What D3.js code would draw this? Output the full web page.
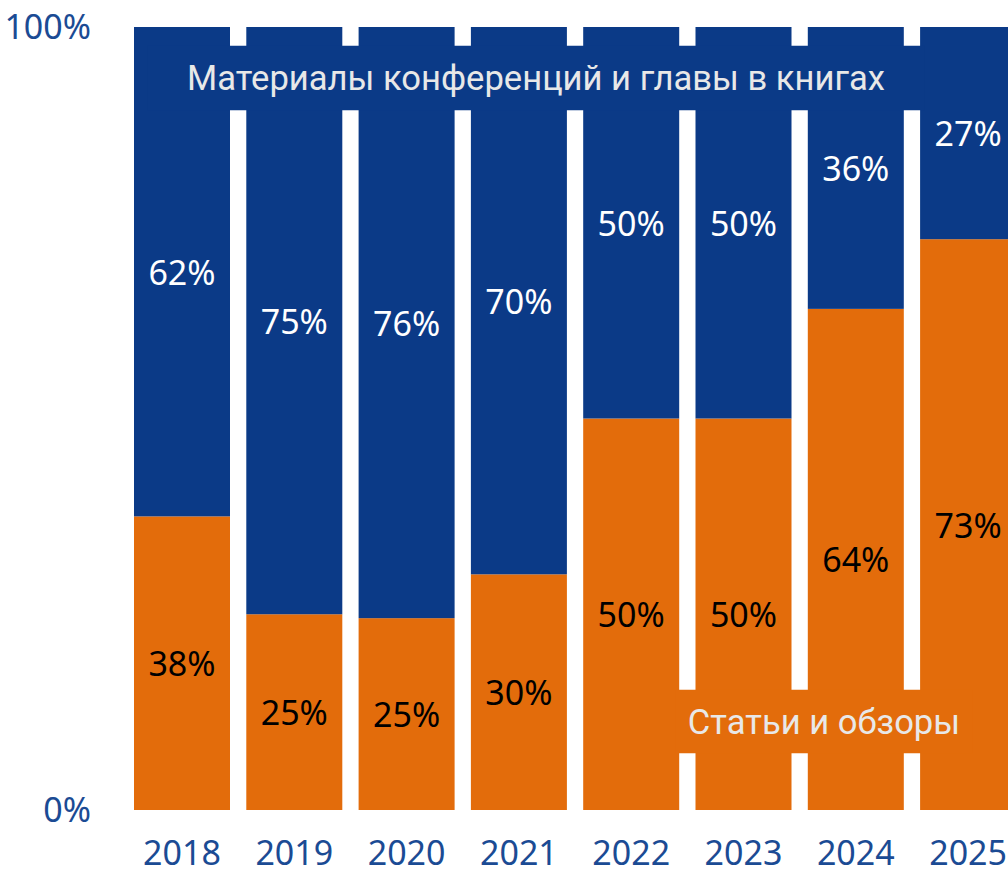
<!DOCTYPE html>
<html><head><meta charset="utf-8">
<script src="https://cdn.jsdelivr.net/npm/d3@7"></script>
<style>body{margin:0;background:#fff}svg{display:block}</style>
</head><body>
<svg id="c" width="1008" height="872"></svg>
<script>
const years = ["2018","2019","2020","2021","2022","2023","2024","2025"];
const articlesShare = [37.5, 25.0, 24.5, 30.1, 50, 50, 64.0, 72.9];
const proceedingsShare = [62.5, 75.0, 75.5, 69.9, 50, 50, 36.0, 27.1];
const articlesLabels = ["38%","25%","25%","30%","50%","50%","64%","73%"];
const proceedingsLabels = ["62%","75%","76%","70%","50%","50%","36%","27%"];
const yTickValues = [0, 100];
const yTickLabels = ["0%","100%"];
const seriesNames = ["Статьи и обзоры","Материалы конференций и главы в книгах"];

const BLUE = "#0b3a87", ORANGE = "#e36c0b", AXIS = "#1b4b94", NAME = "#e8e8e8";
const FONT = "'Noto Sans', sans-serif";
const svg = d3.select("#c");

const step = 112.3, gap = 16.3, x0 = 134;
const x = d3.scaleBand().domain(years).range([x0, x0 + years.length*step - gap]).paddingInner(gap/step).paddingOuter(0);
const y = d3.scaleLinear().domain([0,100]).range([810, 27]);

const data = years.map((yr,i)=>({year:yr, a:articlesShare[i], p:proceedingsShare[i], la:articlesLabels[i], lp:proceedingsLabels[i]}));

const g = svg.append("g");
g.selectAll("rect.a").data(data).join("rect").attr("class","a")
  .attr("x", d=>x(d.year)).attr("width", x.bandwidth())
  .attr("y", d=>y(d.a)).attr("height", d=>y(0)-y(d.a)).attr("fill", ORANGE);
g.selectAll("rect.p").data(data).join("rect").attr("class","p")
  .attr("x", d=>x(d.year)).attr("width", x.bandwidth())
  .attr("y", d=>y(d.a+d.p)).attr("height", d=>y(d.a)-y(d.a+d.p)).attr("fill", BLUE);

// series name bands
function nameBand(text, cx, cy, h, fill, padL, padR){
  const grp = svg.append("g");
  const r = grp.append("rect").attr("fill", fill);
  const t = grp.append("text").attr("x", cx).attr("y", cy).attr("text-anchor","middle")
    .attr("dominant-baseline","central").attr("font-family","Roboto, sans-serif").attr("font-size",34.6)
    .attr("fill", NAME).text(text);
  const bb = t.node().getBBox();
  r.attr("x", bb.x - padL).attr("width", bb.width + padL + padR).attr("y", cy - h/2).attr("height", h);
}
nameBand(seriesNames[1], 536, 78, 64.5, BLUE, 40, 40);
nameBand(seriesNames[0], 824, 721.5, 63.5, ORANGE, 12, 12);

// value labels
g.selectAll("text.lp").data(data).join("text").attr("class","lp")
  .attr("x", d=>x(d.year)+x.bandwidth()/2).attr("y", d=>(y(d.a)+y(d.a+d.p))/2)
  .attr("text-anchor","middle").attr("dominant-baseline","central")
  .attr("font-family",FONT).attr("font-size",34).attr("fill","#fff").text(d=>d.lp);
g.selectAll("text.la").data(data).join("text").attr("class","la")
  .attr("x", d=>x(d.year)+x.bandwidth()/2).attr("y", d=>(y(0)+y(d.a))/2)
  .attr("text-anchor","middle").attr("dominant-baseline","central")
  .attr("font-family",FONT).attr("font-size",34).attr("fill","#000").text(d=>d.la);

// axes
const xAxis = svg.append("g").attr("transform","translate(0,810)")
  .call(d3.axisBottom(x).tickSize(0).tickPadding(31));
xAxis.select(".domain").remove();
xAxis.selectAll("text").attr("font-family",FONT).attr("font-size",34).attr("fill",AXIS);

const yAxis = svg.append("g").attr("transform","translate(91,0)")
  .call(d3.axisLeft(y).tickValues(yTickValues).tickFormat((d,i)=>yTickLabels[i]).tickSize(0).tickPadding(0));
yAxis.select(".domain").remove();
yAxis.selectAll("text").attr("font-family",FONT).attr("font-size",34).attr("fill",AXIS).attr("dy","0.35em");
</script>
</body></html>
